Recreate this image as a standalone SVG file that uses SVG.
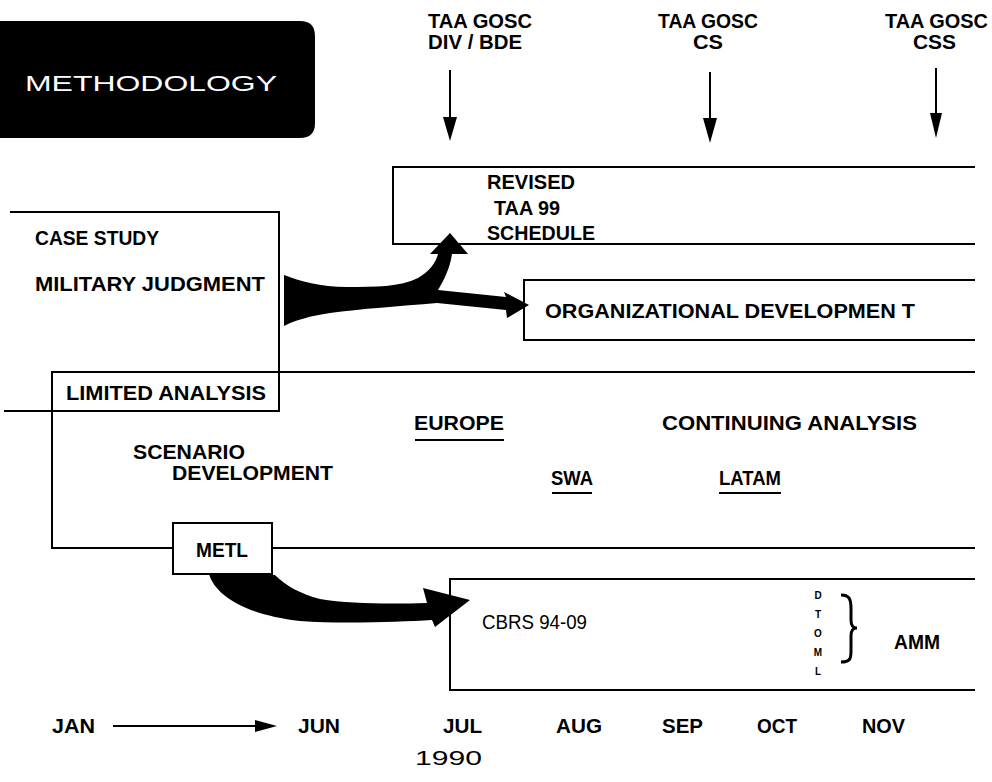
<svg xmlns="http://www.w3.org/2000/svg" width="992" height="782" viewBox="0 0 992 782">
<defs>
<style>
.t{font-family:"Liberation Sans",Arial,sans-serif;font-weight:bold;font-size:20px;fill:#000}
.n{font-family:"Liberation Sans",Arial,sans-serif;font-weight:normal;font-size:20px;fill:#000}
.s{font-family:"Liberation Sans",Arial,sans-serif;font-weight:bold;font-size:10px;fill:#000}
.ln{stroke:#000;stroke-width:2;fill:none}
.fill{fill:#000;stroke:none}
</style>
</defs>
<rect width="992" height="782" fill="#fff"/>

<g id="methodology">
<path d="M0,21 H300 Q315,21 315,36 V123 Q315,138 300,138 H0 Z" fill="#000"/>
<text x="25" y="91" font-family="Liberation Sans, Arial, sans-serif" font-size="22" fill="#fff" textLength="252" lengthAdjust="spacingAndGlyphs">METHODOLOGY</text>
</g>

<g id="milestone-div">
<text class="t" x="428" y="28" textLength="104" lengthAdjust="spacingAndGlyphs">TAA GOSC</text>
<text class="t" x="428" y="49" textLength="94" lengthAdjust="spacingAndGlyphs">DIV / BDE</text>
</g>
<g id="milestone-cs">
<text class="t" x="658" y="28" textLength="100" lengthAdjust="spacingAndGlyphs">TAA GOSC</text>
<text class="t" x="693" y="49" textLength="30" lengthAdjust="spacingAndGlyphs">CS</text>
</g>
<g id="milestone-css">
<text class="t" x="885" y="28" textLength="103" lengthAdjust="spacingAndGlyphs">TAA GOSC</text>
<text class="t" x="913" y="49" textLength="43" lengthAdjust="spacingAndGlyphs">CSS</text>
</g>

<g id="revised-schedule">
<path class="ln" d="M975,167 H393 V244 H975"/>
<text class="t" x="487" y="189" textLength="88" lengthAdjust="spacingAndGlyphs">REVISED</text>
<text class="t" x="494" y="215" textLength="66" lengthAdjust="spacingAndGlyphs">TAA 99</text>
<text class="t" x="487" y="240" textLength="108" lengthAdjust="spacingAndGlyphs">SCHEDULE</text>
</g>

<g id="organizational-development">
<path class="ln" d="M975,280 H524 V340 H975"/>
<text class="t" x="545" y="318" textLength="370" lengthAdjust="spacingAndGlyphs">ORGANIZATIONAL DEVELOPMEN T</text>
</g>

<g id="case-study">
<path class="ln" d="M10,212 H279 V372"/>
<text class="t" x="35" y="245" textLength="124" lengthAdjust="spacingAndGlyphs">CASE STUDY</text>
<text class="t" x="35" y="291" textLength="230" lengthAdjust="spacingAndGlyphs">MILITARY JUDGMENT</text>
</g>

<g id="limited-analysis">
<path class="ln" d="M52,411 V372 H279 V411 H4"/>
<text class="t" x="66" y="400" textLength="200" lengthAdjust="spacingAndGlyphs">LIMITED ANALYSIS</text>
</g>

<g id="continuing-analysis">
<path class="ln" d="M279,372 H975"/>
<path class="ln" d="M52,411 V548 H173"/>
<path class="ln" d="M272,548 H975"/>
<text class="t" x="133" y="459" textLength="112" lengthAdjust="spacingAndGlyphs">SCENARIO</text>
<text class="t" x="172" y="480" textLength="161" lengthAdjust="spacingAndGlyphs">DEVELOPMENT</text>
<text class="t" x="414" y="430" textLength="90" lengthAdjust="spacingAndGlyphs">EUROPE</text>
<path class="ln" d="M415,440 H504"/>
<text class="t" x="662" y="430" textLength="255" lengthAdjust="spacingAndGlyphs">CONTINUING ANALYSIS</text>
<text class="t" x="551" y="485" textLength="42" lengthAdjust="spacingAndGlyphs">SWA</text>
<path class="ln" d="M552,493 H592"/>
<text class="t" x="719" y="485" textLength="62" lengthAdjust="spacingAndGlyphs">LATAM</text>
<path class="ln" d="M719,493 H781"/>
</g>

<g id="metl">
<rect class="ln" x="173" y="523" width="99" height="51"/>
<text class="t" x="196" y="557" textLength="52" lengthAdjust="spacingAndGlyphs">METL</text>
</g>

<g id="cbrs">
<path class="ln" d="M975,579 H450 V690 H975"/>
<text class="n" x="482" y="629" textLength="105" lengthAdjust="spacingAndGlyphs">CBRS 94-09</text>
<g text-anchor="middle">
<text class="s" x="818" y="599">D</text>
<text class="s" x="818" y="618">T</text>
<text class="s" x="818" y="637">O</text>
<text class="s" x="818" y="656">M</text>
<text class="s" x="818" y="675">L</text>
</g>
<path d="M841,595 C850,595 851,600 851,609 L851,620 C851,626 853,628 857,628 C853,628 851,630 851,636 L851,651 C851,659 850,662 841,662" fill="none" stroke="#000" stroke-width="3"/>
<text class="t" x="894" y="649" textLength="46" lengthAdjust="spacingAndGlyphs">AMM</text>
</g>

<g id="timeline">
<text class="t" x="52" y="733" textLength="43" lengthAdjust="spacingAndGlyphs">JAN</text>
<text class="t" x="298" y="733" textLength="42" lengthAdjust="spacingAndGlyphs">JUN</text>
<text class="t" x="443" y="733" textLength="39" lengthAdjust="spacingAndGlyphs">JUL</text>
<text class="t" x="556" y="733" textLength="46" lengthAdjust="spacingAndGlyphs">AUG</text>
<text class="t" x="662" y="733" textLength="41" lengthAdjust="spacingAndGlyphs">SEP</text>
<text class="t" x="757" y="733" textLength="40" lengthAdjust="spacingAndGlyphs">OCT</text>
<text class="t" x="862" y="733" textLength="43" lengthAdjust="spacingAndGlyphs">NOV</text>
<text class="n" x="415" y="765" font-size="27" textLength="67" lengthAdjust="spacingAndGlyphs">1990</text>
</g>

<g id="connectors">
<path class="ln" d="M450,70 V120"/>
<path class="fill" d="M443,117 L457,117 L450,141 Z"/>
<path class="ln" d="M710,72 V122"/>
<path class="fill" d="M703,118 L717,118 L710,143 Z"/>
<path class="ln" d="M936,68 V116"/>
<path class="fill" d="M930,113 L942,113 L936,138 Z"/>
<path class="fill" d="M284,275 C300,281 320,287 347,287 C375,287 400,287 418,278 C430,271 436,262 438,254 L430,254 L450,233 L468,254 L452,254 C450,268 444,280 438,290 L506,297 L504,292 L529,305 L507,318 L506,310 L437,303 C400,306 360,309 330,313 C310,316 296,320 284,326 Z"/>
<path class="fill" d="M209,574 C215,595 245,615 300,621 C340,624 400,622 432,620 L435,627 L470,600 L423,588 L427,603 C390,604 350,604 320,599 C300,594 285,585 275,575 Z"/>
<path class="ln" d="M113,726 H258"/>
<path class="fill" d="M255,720 L277,726 L255,732 Z"/>
</g>
</svg>
